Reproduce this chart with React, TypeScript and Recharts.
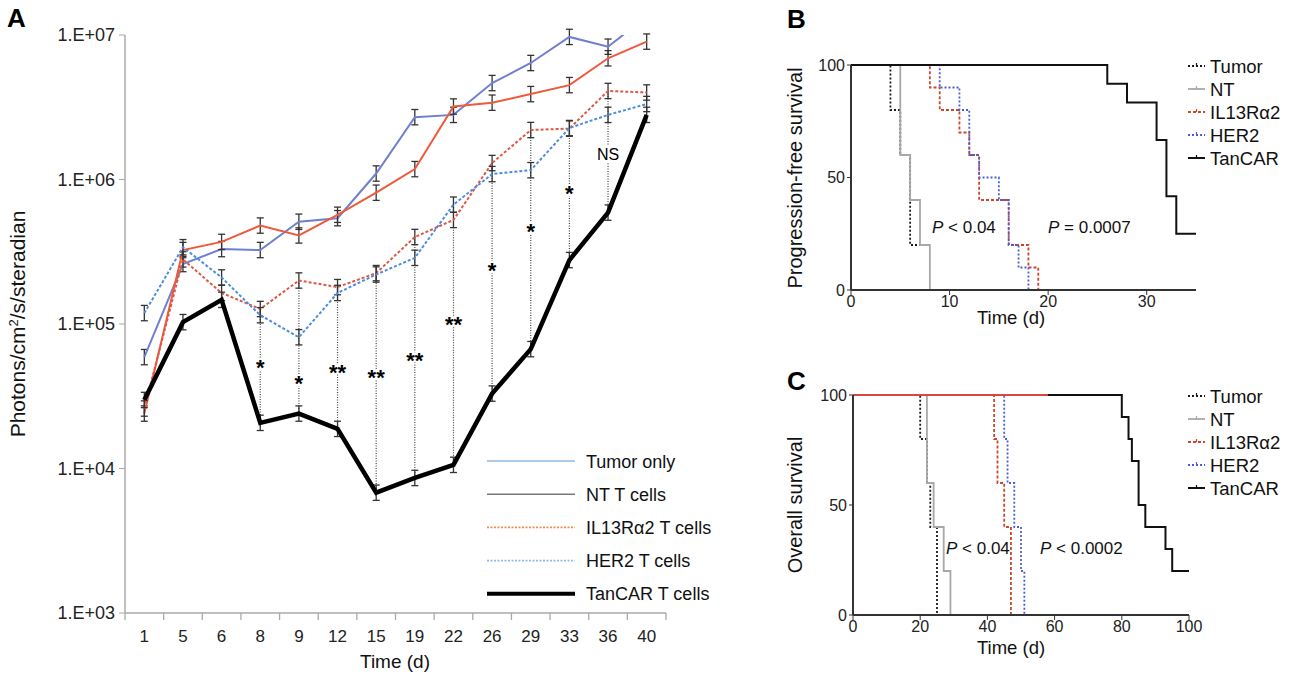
import React from "react"
import { LineChart, Line, XAxis, YAxis, ErrorBar, ReferenceLine, ReferenceDot } from "recharts"

// Panel A - bioluminescence over time (log scale)
const DAYS = [1, 5, 6, 8, 9, 12, 15, 19, 22, 26, 29, 33, 36, 40]
const TUMOR_ONLY = [5.9e4, 2.6e5, 3.3e5, 3.25e5, 5.1e5, 5.4e5, 1.1e6, 2.7e6, 2.8e6, 4.65e6, 6.4e6, 9.7e6, 8.3e6, 1.34e7]
const NT_CELLS = [2.4e4, 3.25e5, 3.7e5, 4.8e5, 4.1e5, 5.7e5, 8.1e5, 1.18e6, 3.2e6, 3.4e6, 3.9e6, 4.5e6, 6.9e6, 9.0e6]
const IL13_CELLS = [2.6e4, 2.8e5, 1.64e5, 1.27e5, 2.0e5, 1.8e5, 2.25e5, 4.0e5, 5.25e5, 1.3e6, 2.2e6, 2.25e6, 4.1e6, 4.0e6]
const HER2_CELLS = [1.19e5, 3.4e5, 2.1e5, 1.15e5, 8.1e4, 1.64e5, 2.2e5, 2.87e5, 6.7e5, 1.09e6, 1.16e6, 2.27e6, 2.8e6, 3.33e6]
const TANCAR_CELLS = [2.98e4, 1.03e5, 1.47e5, 2.07e4, 2.4e4, 1.88e4, 6.8e3, 8.6e3, 1.06e4, 3.3e4, 6.7e4, 2.77e5, 5.9e5, 2.8e6]
const Y_TICKS = [1e3, 1e4, 1e5, 1e6, 1e7]
const Y_MAX = 1e7

// significance marks (day index, label, label height)
const SIG_IDX = [3, 4, 5, 6, 7, 8, 9, 10, 11, 12]
const SIG_LABELS = ["*", "*", "**", "**", "**", "**", "*", "*", "*", "NS"]
const SIG_LABEL_Y = [5.5e4, 4.3e4, 5.1e4, 4.7e4, 6.2e4, 1.1e5, 2.6e5, 4.8e5, 8.9e5, 1.5e6]

// Panel B - progression-free survival (days, %)
const PFS_TUMOR_T = [0, 4, 5, 6, 7]
const PFS_TUMOR_S = [100, 80, 60, 20, 20]
const PFS_NT_T = [0, 5, 6, 7, 8]
const PFS_NT_S = [100, 60, 40, 20, 0]
const PFS_IL13_T = [0, 8, 9, 11, 12, 13, 16, 18, 19]
const PFS_IL13_S = [100, 90, 80, 70, 60, 40, 20, 10, 0]
const PFS_HER2_T = [0, 9, 11, 12, 13, 15, 16, 17, 18]
const PFS_HER2_S = [100, 90, 80, 60, 50, 40, 20, 10, 0]
const PFS_TANCAR_T = [0, 26, 28, 31, 32, 33, 35]
const PFS_TANCAR_S = [100, 91.7, 83.3, 66.7, 41.7, 25, 25]

// Panel C - overall survival (days, %)
const OS_TUMOR_T = [0, 20, 22, 23, 25]
const OS_TUMOR_S = [100, 80, 60, 40, 0]
const OS_NT_T = [0, 22, 24, 27, 29]
const OS_NT_S = [100, 60, 40, 20, 0]
const OS_IL13_T = [0, 42, 43, 45, 47]
const OS_IL13_S = [100, 80, 60, 40, 0]
const OS_HER2_T = [0, 45, 46, 48, 50, 51]
const OS_HER2_S = [100, 80, 60, 40, 20, 0]
const OS_TANCAR_T = [0, 80, 82, 83, 85, 87, 93, 95, 100]
const OS_TANCAR_S = [100, 90, 80, 70, 50, 40, 30, 20, 20]
const OS_RED_T = [0, 58]
const OS_RED_S = [100, 100]

const FONT = "'Liberation Sans', Arial, Helvetica, sans-serif"
const ERR = 1.13
// no bar for points that run off the top of the axis
const err = (v: number) => (v > Y_MAX ? undefined : [v - v / ERR, v * ERR - v])

const dataA = DAYS.map((d, i) => ({
  idx: i,
  day: d,
  tumor: TUMOR_ONLY[i],
  tumorErr: err(TUMOR_ONLY[i]),
  nt: NT_CELLS[i],
  ntErr: err(NT_CELLS[i]),
  il13: IL13_CELLS[i],
  il13Err: err(IL13_CELLS[i]),
  her2: HER2_CELLS[i],
  her2Err: err(HER2_CELLS[i]),
  tan: TANCAR_CELLS[i],
  tanErr: err(TANCAR_CELLS[i]),
}))

const steps = (t: number[], s: number[]) => t.map((x, i) => ({ t: x, s: s[i] }))

const expLabel = (v: number) => `1.E+0${Math.round(Math.log10(v))}`

// tick at category centre = day label, tick at half step = small mark
function DayTick(p: any) {
  const v = p.payload.value
  if (Number.isInteger(v)) {
    return (
      <text x={p.x} y={p.y + 29} textAnchor="middle" fontSize={17} fontFamily={FONT} fill="#222">
        {DAYS[v]}
      </text>
    )
  }
  return <line x1={p.x} x2={p.x} y1={p.y} y2={p.y + 7} stroke="#aaa" strokeWidth={1.3} />
}

function PanelA() {
  const ticks = DAYS.flatMap((_, i) => [i - 0.5, i]).concat([DAYS.length - 0.5])
  const eb = { width: 3.5, stroke: "#333", strokeWidth: 1.3 }
  return (
    <LineChart width={700} height={680} data={dataA} margin={{ top: 35, right: 34, left: 0, bottom: 37 }}>
      <XAxis
        type="number"
        dataKey="idx"
        domain={[-0.5, DAYS.length - 0.5]}
        ticks={ticks}
        interval={0}
        tick={<DayTick />}
        tickLine={false}
        tickSize={0}
        tickMargin={0}
        height={30}
        axisLine={{ stroke: "#aaa", strokeWidth: 1.5 }}
      />
      <YAxis
        scale="log"
        domain={[1e3, Y_MAX]}
        allowDataOverflow
        ticks={Y_TICKS}
        interval={0}
        tickFormatter={expLabel}
        width={125}
        tickSize={6}
        tickMargin={4}
        stroke="#aaa"
        axisLine={{ stroke: "#aaa", strokeWidth: 1.5 }}
        tick={{ fill: "#222", fontSize: 18, fontFamily: FONT }}
      />
      {SIG_IDX.map((i) => (
        <ReferenceLine
          key={"s" + i}
          segment={[
            { x: i, y: Math.max(IL13_CELLS[i], HER2_CELLS[i]) },
            { x: i, y: TANCAR_CELLS[i] },
          ]}
          stroke="#444"
          strokeWidth={1.2}
          strokeDasharray="1 1.5"
          ifOverflow="visible"
        />
      ))}
      <Line dataKey="tumor" stroke="#6f80cf" strokeWidth={2} dot={false} isAnimationActive={false}>
        <ErrorBar dataKey="tumorErr" {...eb} />
      </Line>
      <Line dataKey="nt" stroke="#ef5a3c" strokeWidth={2} dot={false} isAnimationActive={false}>
        <ErrorBar dataKey="ntErr" {...eb} />
      </Line>
      <Line dataKey="il13" stroke="#dc5a44" strokeWidth={2} strokeDasharray="3 2" dot={false} isAnimationActive={false}>
        <ErrorBar dataKey="il13Err" {...eb} />
      </Line>
      <Line dataKey="her2" stroke="#4d8de0" strokeWidth={2} strokeDasharray="3 2" dot={false} isAnimationActive={false}>
        <ErrorBar dataKey="her2Err" {...eb} />
      </Line>
      <Line dataKey="tan" stroke="#000" strokeWidth={4.5} dot={false} isAnimationActive={false}>
        <ErrorBar dataKey="tanErr" {...eb} />
      </Line>
      {SIG_IDX.map((i, k) => (
        <ReferenceDot
          key={"l" + i}
          x={i}
          y={SIG_LABEL_Y[k]}
          r={0}
          ifOverflow="visible"
          label={{
            value: SIG_LABELS[k],
            position: "center",
            fill: "#000",
            fontSize: SIG_LABELS[k] === "NS" ? 16 : 22,
            fontWeight: SIG_LABELS[k] === "NS" ? 400 : 700,
            fontFamily: FONT,
            dy: SIG_LABELS[k] === "NS" ? 0 : 6,
            stroke: "#fff",
            strokeWidth: 4,
            paintOrder: "stroke",
          }}
        />
      ))}
    </LineChart>
  )
}

type Curve = { t: number[]; s: number[]; stroke: string; width: number; dash?: string }

function SurvivalPanel(props: {
  width: number
  height: number
  margin: { top: number; right: number; left: number; bottom: number }
  yWidth: number
  xMax: number
  xTicks: number[]
  curves: Curve[]
}) {
  const tickStyle = { fill: "#222", fontSize: 16, fontFamily: FONT }
  return (
    <LineChart width={props.width} height={props.height} margin={props.margin}>
      <XAxis
        type="number"
        dataKey="t"
        domain={[0, props.xMax]}
        ticks={props.xTicks}
        interval={0}
        allowDataOverflow
        tickSize={5}
        tickMargin={1}
        height={30}
        stroke="#333"
        axisLine={{ stroke: "#333", strokeWidth: 2 }}
        tick={tickStyle}
      />
      <YAxis
        type="number"
        dataKey="s"
        domain={[0, 100]}
        ticks={[0, 50, 100]}
        interval={0}
        width={props.yWidth}
        tickSize={4}
        tickMargin={2}
        stroke="#333"
        axisLine={{ stroke: "#333", strokeWidth: 2 }}
        tick={tickStyle}
      />
      {props.curves.map((c, i) => (
        <Line
          key={i}
          data={steps(c.t, c.s)}
          dataKey="s"
          type="stepAfter"
          stroke={c.stroke}
          strokeWidth={c.width}
          strokeDasharray={c.dash}
          dot={false}
          isAnimationActive={false}
        />
      ))}
    </LineChart>
  )
}

const KM_TUMOR = { stroke: "#1a1a1a", width: 1.8, dash: "2 2" }
const KM_NT = { stroke: "#a8a8a8", width: 1.8 }
const KM_IL13 = { stroke: "#c9472c", width: 1.8, dash: "3 2" }
const KM_HER2 = { stroke: "#4a5fd6", width: 1.8, dash: "2 2" }
const KM_TANCAR = { stroke: "#111", width: 2 }

function SmallLegend({ top }: { top: number }) {
  const rows = [
    { label: "Tumor", ...KM_TUMOR },
    { label: "NT", ...KM_NT },
    { label: "IL13R\u03b12", ...KM_IL13 },
    { label: "HER2", ...KM_HER2 },
    { label: "TanCAR", ...KM_TANCAR },
  ]
  return (
    <g>
      {rows.map((r, i) => {
        const y = top + i * 23
        return (
          <g key={r.label}>
            <line x1={1188} x2={1205} y1={y} y2={y} stroke={r.stroke} strokeWidth={r.width} strokeDasharray={r.dash} />
            <line x1={1196.5} x2={1196.5} y1={y - 3} y2={y} stroke={r.stroke} strokeWidth={1.2} />
            <text x={1210} y={y + 6.5} fontSize={18.5} fontFamily={FONT} fill="#111">
              {r.label}
            </text>
          </g>
        )
      })}
    </g>
  )
}

function LegendA() {
  const rows = [
    { label: "Tumor only", stroke: "#8fb8e8", width: 1.6, dash: undefined },
    { label: "NT T cells", stroke: "#777", width: 1.6, dash: undefined },
    { label: "IL13R\u03b12 T cells", stroke: "#f08a4b", width: 1.6, dash: "2 1.5" },
    { label: "HER2 T cells", stroke: "#8fb8e8", width: 1.6, dash: "2 1.5" },
    { label: "TanCAR T cells", stroke: "#000", width: 4, dash: undefined },
  ]
  return (
    <g>
      {rows.map((r, i) => {
        const y = 461 + i * 33.2
        return (
          <g key={r.label}>
            <line x1={487} x2={575} y1={y} y2={y} stroke={r.stroke} strokeWidth={r.width} strokeDasharray={r.dash} />
            <text x={586} y={y + 6.5} fontSize={18} fontFamily={FONT} fill="#111">
              {r.label}
            </text>
          </g>
        )
      })}
    </g>
  )
}

export default function App() {
  return (
    <div style={{ position: "absolute", left: 0, top: 0, width: 1297, height: 680, background: "#fff", fontFamily: FONT }}>
      <div style={{ position: "absolute", left: 0, top: 0 }}>
        <PanelA />
      </div>
      <div style={{ position: "absolute", left: 780, top: 40 }}>
        <SurvivalPanel
          width={430}
          height={290}
          margin={{ top: 25, right: 14, left: 0, bottom: 10 }}
          yWidth={71}
          xMax={35}
          xTicks={[0, 10, 20, 30]}
          curves={[
            { t: PFS_TUMOR_T, s: PFS_TUMOR_S, ...KM_TUMOR },
            { t: PFS_NT_T, s: PFS_NT_S, ...KM_NT },
            { t: PFS_IL13_T, s: PFS_IL13_S, ...KM_IL13 },
            { t: PFS_HER2_T, s: PFS_HER2_S, ...KM_HER2 },
            { t: PFS_TANCAR_T, s: PFS_TANCAR_S, ...KM_TANCAR },
          ]}
        />
      </div>
      <div style={{ position: "absolute", left: 780, top: 370 }}>
        <SurvivalPanel
          width={432}
          height={290}
          margin={{ top: 25, right: 23, left: 0, bottom: 15 }}
          yWidth={73}
          xMax={100}
          xTicks={[0, 20, 40, 60, 80, 100]}
          curves={[
            { t: OS_TUMOR_T, s: OS_TUMOR_S, ...KM_TUMOR },
            { t: OS_NT_T, s: OS_NT_S, ...KM_NT },
            { t: OS_IL13_T, s: OS_IL13_S, ...KM_IL13 },
            { t: OS_HER2_T, s: OS_HER2_S, ...KM_HER2 },
            { t: OS_TANCAR_T, s: OS_TANCAR_S, ...KM_TANCAR },
            { t: OS_RED_T, s: OS_RED_S, stroke: "#d9473a", width: 2 },
          ]}
        />
      </div>
      <svg width={1297} height={680} style={{ position: "absolute", left: 0, top: 0, pointerEvents: "none" }}>
        <text x={7} y={27} fontSize={26} fontWeight={700} fontFamily={FONT}>A</text>
        <text x={787} y={28} fontSize={26} fontWeight={700} fontFamily={FONT}>B</text>
        <text x={787} y={390} fontSize={26} fontWeight={700} fontFamily={FONT}>C</text>

        <text transform="translate(25,324) rotate(-90)" textAnchor="middle" fontSize={21} fontFamily={FONT} fill="#111">
          Photons/cm<tspan baselineShift="super" fontSize={13}>2</tspan>/s/steradian
        </text>
        <text x={395} y={668} textAnchor="middle" fontSize={19} fontFamily={FONT} fill="#111">Time (d)</text>

        <text transform="translate(802,178) rotate(-90)" textAnchor="middle" fontSize={20} fontFamily={FONT} fill="#111">
          Progression-free survival
        </text>
        <text x={1011} y={324} textAnchor="middle" fontSize={18.5} fontFamily={FONT} fill="#111">Time (d)</text>
        <text transform="translate(802,505) rotate(-90)" textAnchor="middle" fontSize={20} fontFamily={FONT} fill="#111">
          Overall survival
        </text>
        <text x={1011} y={654} textAnchor="middle" fontSize={18.5} fontFamily={FONT} fill="#111">Time (d)</text>

        <text x={932} y={233} fontSize={17} fontFamily={FONT} fill="#111">
          <tspan fontStyle="italic">P</tspan> &lt; 0.04
        </text>
        <text x={1048} y={233} fontSize={17} fontFamily={FONT} fill="#111">
          <tspan fontStyle="italic">P</tspan> = 0.0007
        </text>
        <text x={946} y={554} fontSize={17} fontFamily={FONT} fill="#111">
          <tspan fontStyle="italic">P</tspan> &lt; 0.04
        </text>
        <text x={1040} y={554} fontSize={17} fontFamily={FONT} fill="#111">
          <tspan fontStyle="italic">P</tspan> &lt; 0.0002
        </text>

        <LegendA />
        <SmallLegend top={66} />
        <SmallLegend top={396} />
      </svg>
    </div>
  )
}
